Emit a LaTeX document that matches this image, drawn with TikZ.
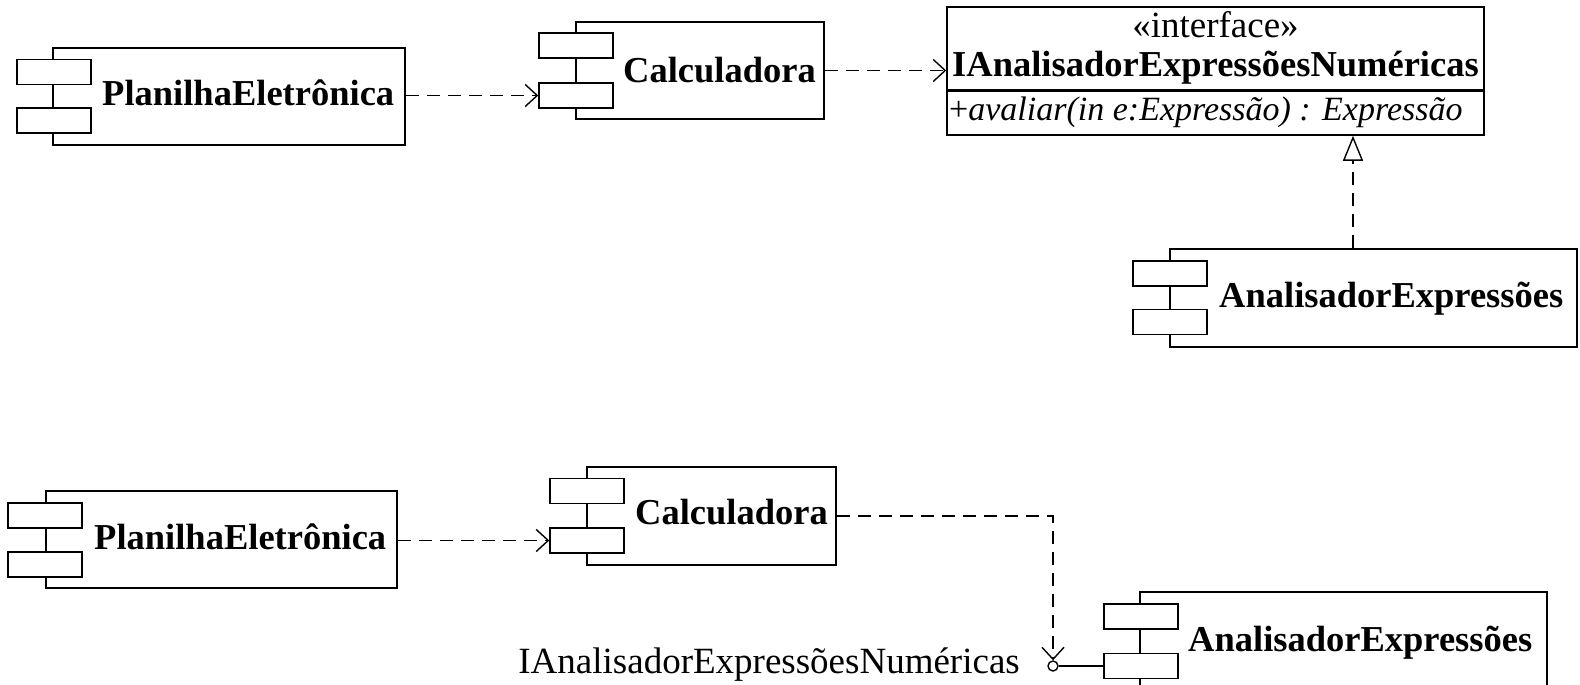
\documentclass[tikz,border=0pt]{standalone}
\usepackage{fontspec}
\setmainfont{Liberation Serif}
\usetikzlibrary{arrows.meta}
\newcommand\myfs{\fontsize{37}{42}\selectfont}
\newcommand\mybfs{\fontsize{36.5}{42}\selectfont\bfseries}
\newcommand\myofs{\fontsize{34}{40}\selectfont}
\tikzset{
  box/.style={draw=black, line width=1.5pt, fill=white, inner sep=0pt, rectangle},
  port/.style={box, minimum width=74pt, minimum height=25pt},
  lbl/.style={inner sep=0pt, font=\mybfs, anchor=base west},
  plain/.style={inner sep=0pt, font=\myfs},
  dep/.style={line width=1.5pt, dash pattern=on 13pt off 8pt,
    -{Straight Barb[length=12pt,width=22pt,line width=1.4pt]}},
  real/.style={line width=1.5pt, dash pattern=on 13pt off 8pt,
    -{Triangle[open,length=25pt,width=20pt,line width=1.4pt,fill=white]}},
}
\begin{document}
\begin{tikzpicture}[x=1pt,y=-1pt]
\useasboundingbox (0,0) rectangle (1580,685);
\clip (0,0) rectangle (1580,685);
% ---------- top diagram ----------
\node[box, minimum width=352pt, minimum height=97pt] (P1) at (229,96.5) {};
\node[port] (P1U) at (54,72) {};
\node[port] (P1L) at (54,120.5) {};
\node[lbl] (P1T) at (102,106) {PlanilhaEletrônica};

\node[box, minimum width=248pt, minimum height=97pt] (C1) at (700,70.5) {};
\node[port] (C1U) at (576,45.5) {};
\node[port] (C1L) at (576,95.5) {};
\node[lbl] (C1T) at (623,82) {Calculadora};

\node[box, minimum width=537pt, minimum height=128pt] (I) at (1215.5,71) {};
\node[plain, anchor=base] (Ist) at (1215.5,38) {«interface»};
\node[plain, font=\mybfs, anchor=base] (In) at (1215.5,77) {IAnalisadorExpressõesNuméricas};
\coordinate (dv) at (0,90.5);
\draw[line width=2.2pt] (I.west |- dv) -- (I.east |- dv);
\node[plain, font=\myofs, anchor=base west] (Iop) at (949,121) {+\textit{avaliar(in e:Expressão) : Expressão}};

\node[box, minimum width=407pt, minimum height=98pt] (A1) at (1373.5,298) {};
\node[port] (A1U) at (1170,273.5) {};
\node[port] (A1L) at (1170,322) {};
\node[lbl] (A1T) at (1219,307) {AnalisadorExpressões};

\draw[dep] (P1.east |- C1L.west) -- (C1L.west);
\draw[dep] (C1.east) -- (C1.east -| I.west);
\coordinate (rx) at (1353,0);
\draw[real] (A1.north -| rx) -- (I.south -| rx);

% ---------- bottom diagram ----------
\node[box, minimum width=351pt, minimum height=97pt] (P2) at (221.5,539.5) {};
\node[port] (P2U) at (45,515.5) {};
\node[port] (P2L) at (45,564.5) {};
\node[lbl] (P2T) at (94,549) {PlanilhaEletrônica};

\node[box, minimum width=249pt, minimum height=98pt] (C2) at (711.5,516) {};
\node[port] (C2U) at (587,491) {};
\node[port] (C2L) at (587,540.5) {};
\node[lbl] (C2T) at (635,524) {Calculadora};

\node[box, minimum width=407pt, minimum height=98pt] (A2) at (1343.5,641) {};
\node[port] (A2U) at (1141,616.5) {};
\node[port] (A2L) at (1141,666) {};
\node[lbl] (A2T) at (1188,651) {AnalisadorExpressões};

\node[draw, line width=1.4pt, circle, minimum size=10pt, inner sep=0pt, fill=white] (ball) at (1053,666) {};
\draw[line width=1.5pt] (ball.east) -- (A2L.west);
\node[plain, anchor=base east] (lab) at (1020,673) {IAnalisadorExpressõesNuméricas};

\draw[dep] (P2.east |- C2L.west) -- (C2L.west);
\draw[dep] (C2.east) -| (ball.north);
\end{tikzpicture}
\end{document}
